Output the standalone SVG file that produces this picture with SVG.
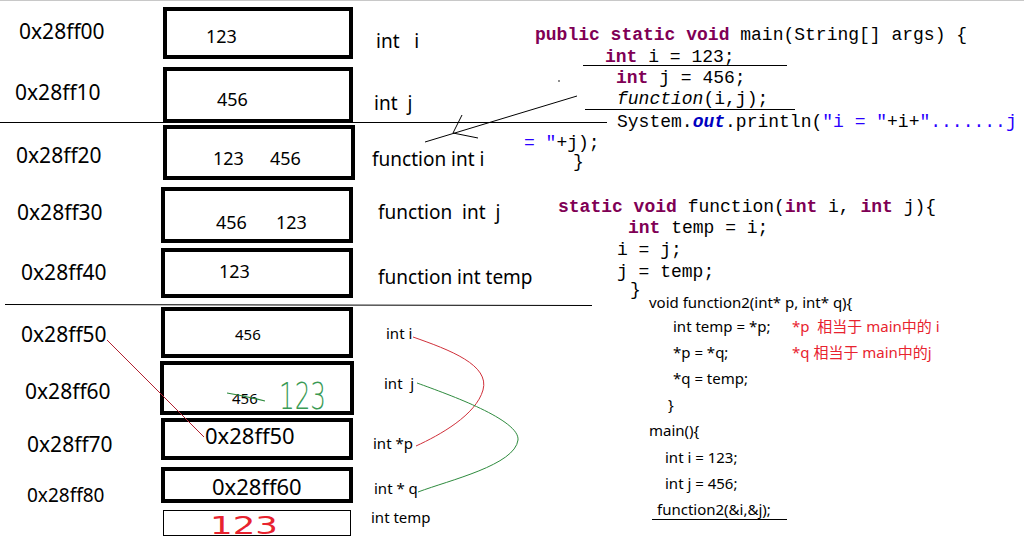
<svg xmlns="http://www.w3.org/2000/svg" width="1024" height="539" viewBox="0 0 1024 539">
<style>
.cell{fill:#fff;stroke:#000;stroke-width:4}
.thin{fill:#fff;stroke:#000;stroke-width:1}
.addr{font-family:"Noto Sans","Liberation Sans",sans-serif;font-size:21px;fill:#000}
.val{font-family:"Noto Sans","Liberation Sans",sans-serif;font-size:18px;fill:#000}
.sval{font-family:"Noto Sans","Liberation Sans",sans-serif;font-size:15px;fill:#000}
.lbl{font-family:"Noto Sans","Liberation Sans",sans-serif;font-size:19px;fill:#000}
.slbl{font-family:"Noto Sans","Liberation Sans",sans-serif;font-size:15px;fill:#000}
.code{font-family:"Liberation Mono","Courier New",monospace;font-size:18px;fill:#000;white-space:pre}
.kw{font-weight:bold;fill:#7f0055}
.fld{font-weight:bold;font-style:italic;fill:#0000c0}
.str{fill:#2a00ff}
.sc{font-family:"Noto Sans","Liberation Sans","Noto Sans CJK SC",sans-serif;font-size:15px;fill:#000;white-space:pre}
.red{fill:#e8232f}
.ln{stroke:#000;stroke-width:1;fill:none}
</style>
<rect x="0" y="0" width="1024" height="539" fill="#fff"/>
<line x1="0" y1="0.5" x2="1024" y2="0.5" stroke="#c8c8c8" stroke-width="1"/>

<g id="dividers">
<line class="ln" x1="0" y1="122.5" x2="607" y2="122.5"/>
<line class="ln" x1="5" y1="304.5" x2="592" y2="305.5"/>
</g>

<g id="addresses">
<text class="addr" x="19" y="39">0x28ff00</text>
<text class="addr" x="15" y="100">0x28ff10</text>
<text class="addr" x="16" y="163">0x28ff20</text>
<text class="addr" x="17" y="220">0x28ff30</text>
<text class="addr" x="21" y="280">0x28ff40</text>
<text class="addr" x="21" y="342">0x28ff50</text>
<text class="addr" x="25" y="399">0x28ff60</text>
<text class="addr" x="27" y="452">0x28ff70</text>
<text class="addr" x="27" y="502" style="font-size:19px">0x28ff80</text>
</g>

<g id="cell-28ff00"><rect class="cell" x="165" y="9" width="186" height="48"/><text class="val" x="206" y="43">123</text></g>
<g id="cell-28ff10"><rect class="cell" x="165" y="69" width="186" height="52"/><text class="val" x="217" y="106">456</text></g>
<g id="cell-28ff20"><rect class="cell" x="165" y="127" width="188" height="51"/><text class="val" x="213" y="165">123</text><text class="val" x="270" y="165">456</text></g>
<g id="cell-28ff30"><rect class="cell" x="163" y="189" width="188" height="52"/><text class="val" x="216" y="229">456</text><text class="val" x="276" y="229">123</text></g>
<g id="cell-28ff40"><rect class="cell" x="163" y="250" width="188" height="46"/><text class="val" x="219" y="278">123</text></g>
<g id="cell-28ff50"><rect class="cell" x="163" y="309" width="188" height="47"/><text class="sval" x="235" y="340">456</text></g>
<g id="cell-28ff60"><rect class="cell" x="162" y="363" width="190" height="50"/><text class="sval" x="232" y="404">456</text>
<path d="M227 393 Q245 396 265 401" stroke="#2e8b3e" stroke-width="1.2" fill="none"/>
<text x="279" y="409" style="font-family:'DejaVu Sans',sans-serif;font-size:38px;fill:#3a9a55;font-weight:200" textLength="47" lengthAdjust="spacingAndGlyphs">123</text></g>
<g id="cell-28ff70"><rect class="cell" x="163" y="420" width="188" height="38"/><text class="addr" x="205" y="444" style="font-size:22px">0x28ff50</text></g>
<g id="cell-28ff80"><rect class="cell" x="163" y="469" width="188" height="32"/><text class="addr" x="212" y="495" style="font-size:22px">0x28ff60</text></g>
<g id="cell-temp"><rect class="thin" x="163.5" y="510.5" width="187" height="25"/>
<text x="210" y="534" style="font-family:'DejaVu Sans',sans-serif;font-size:24px;fill:#e8232f" textLength="68" lengthAdjust="spacingAndGlyphs">123</text></g>

<g id="labels">
<text class="lbl" x="376" y="48" style="white-space:pre">int   i</text>
<text class="lbl" x="374" y="110" style="white-space:pre">int  j</text>
<text class="lbl" x="372" y="166">function int i</text>
<text class="lbl" x="378" y="219" style="white-space:pre">function  int  j</text>
<text class="lbl" x="378" y="284">function int temp</text>
<text class="slbl" x="386" y="339">int i</text>
<text class="slbl" x="384" y="389" style="white-space:pre">int  j</text>
<text class="slbl" x="373" y="449">int *p</text>
<text class="slbl" x="374" y="494">int * q</text>
<text class="slbl" x="371" y="523">int temp</text>
</g>

<g id="connectors">
<line x1="107" y1="340" x2="204" y2="437" stroke="#b02030" stroke-width="1"/>
<path d="M413 337 C450 350 490 365 483 390 C476 415 440 435 416 446" stroke="#d0303a" stroke-width="1" fill="none"/>
<path d="M417 383 C450 395 520 420 518 440 C515 465 450 480 418 492" stroke="#2e8b3e" stroke-width="1" fill="none"/>
</g>

<g id="marks">
<line class="ln" x1="425" y1="142" x2="577" y2="96"/>
<line class="ln" x1="462" y1="115" x2="453" y2="133"/>
<line class="ln" x1="453" y1="133" x2="478" y2="138"/>
<line class="ln" x1="583" y1="65.5" x2="787" y2="65.5"/>
<line class="ln" x1="585" y1="109.5" x2="795" y2="109.5"/>
<line class="ln" x1="652" y1="519.5" x2="787" y2="519.5"/>
<circle cx="559" cy="81" r="0.8" fill="#000"/>
</g>

<g id="java-code">
<text class="code" x="535" y="40"><tspan class="kw">public static void</tspan> main(String[] args) {</text>
<text class="code" x="605" y="62"><tspan class="kw">int</tspan> i = 123;</text>
<text class="code" x="616" y="83"><tspan class="kw">int</tspan> j = 456;</text>
<text class="code" x="617" y="104"><tspan font-style="italic">function</tspan>(i,j);</text>
<text class="code" x="617" y="127">System.<tspan class="fld">out</tspan>.println(<tspan class="str">"i = "</tspan>+i+<tspan class="str">".......j</tspan></text>
<text class="code" x="524" y="148"><tspan class="str">= "</tspan>+j);</text>
<text class="code" x="573" y="167">}</text>
<text class="code" x="558" y="212"><tspan class="kw">static void</tspan> function(<tspan class="kw">int</tspan> i, <tspan class="kw">int</tspan> j){</text>
<text class="code" x="628" y="233"><tspan class="kw">int</tspan> temp = i;</text>
<text class="code" x="617" y="255">i = j;</text>
<text class="code" x="617" y="277">j = temp;</text>
<text class="code" x="630" y="295">}</text>
</g>

<g id="c-code">
<text class="sc" x="649" y="308">void function2(int* p, int* q){</text>
<text class="sc" x="673" y="332">int temp = *p;</text>
<text class="sc red" x="792" y="332">*p  相当于 main中的 i</text>
<text class="sc" x="673" y="358">*p = *q;</text>
<text class="sc red" x="792" y="358">*q 相当于 main中的j</text>
<text class="sc" x="673" y="384">*q = temp;</text>
<text class="sc" x="668" y="410">}</text>
<text class="sc" x="649" y="436">main(){</text>
<text class="sc" x="665" y="463">int i = 123;</text>
<text class="sc" x="665" y="489">int j = 456;</text>
<text class="sc" x="657" y="515">function2(&amp;i,&amp;j);</text>
</g>
</svg>
